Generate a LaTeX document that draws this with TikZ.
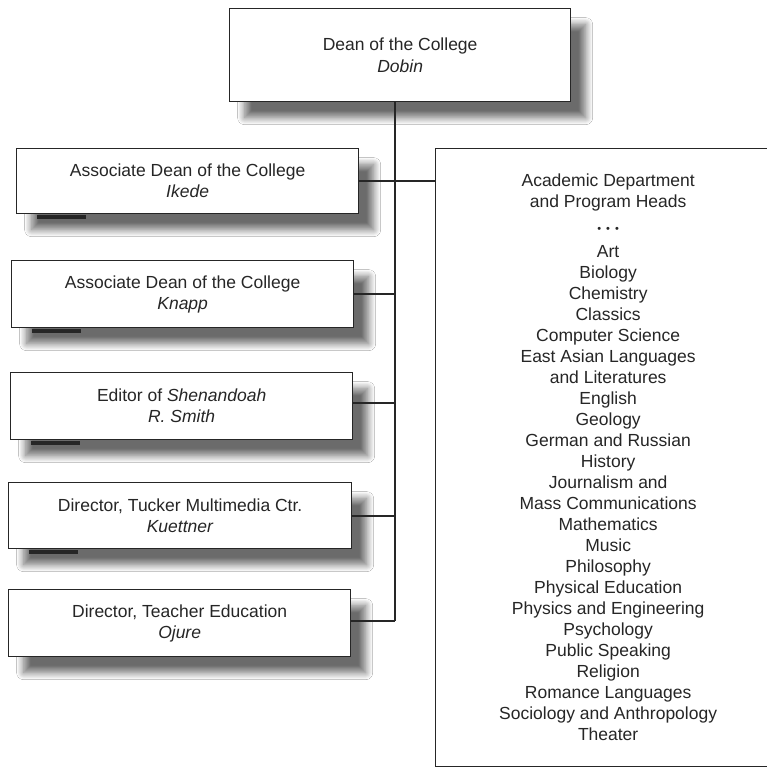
\documentclass[tikz,border=0pt]{standalone}
\usepackage{fontspec}
\setmainfont{Liberation Sans}
\usetikzlibrary{shadows.blur}

\definecolor{ink}{HTML}{262626}

\tikzset{
  orgbox/.style={draw=ink, line width=1.3pt, fill=white, anchor=north west,
    inner sep=0pt, align=center, text=ink,
    font=\fontsize{17.5}{21}\selectfont,
    blur shadow={shadow xshift=15pt, shadow yshift=-16pt,
      shadow blur radius=7pt, shadow blur steps=12, shadow opacity=58}},
  plainbox/.style={draw=ink, line width=1.3pt, fill=white, anchor=north west,
    inner sep=0pt, align=center, text=ink,
    font=\fontsize{17.5}{21}\selectfont},
  link/.style={draw=ink, line width=1.8pt},
  footbar/.style={fill=ink}
}

\begin{document}
\begin{tikzpicture}[x=1pt, y=-1pt]
  \useasboundingbox (0,0) rectangle (767,768);
  \clip (0,0) rectangle (767,768);
  \fill[white] (0,0) rectangle (767,768);

  % Dean
  \node[orgbox, minimum width=341pt, minimum height=93pt] (dean) at (229,8)
    {Dean of the College\\[1pt] \textit{Dobin}};

  % staff reporting to the Dean
  \node[orgbox, minimum width=342pt, minimum height=65pt] (ikede) at (16,148)
    {Associate Dean of the College\\ \textit{Ikede}};
  \node[orgbox, minimum width=342pt, minimum height=67pt] (knapp) at (11,260)
    {Associate Dean of the College\\ \textit{Knapp}};
  \node[orgbox, minimum width=342pt, minimum height=67pt] (editor) at (10,372)
    {Editor of \textit{Shenandoah}\\ \textit{R. Smith}};
  \node[orgbox, minimum width=343pt, minimum height=66pt] (tucker) at (8,482)
    {Director, Tucker Multimedia Ctr.\\ \textit{Kuettner}};
  \node[orgbox, minimum width=342pt, minimum height=67pt] (teacher) at (8,589)
    {Director, Teacher Education\\ \textit{Ojure}};

  % dark foot marks under the lower left corners
  \foreach \b in {ikede, knapp, editor, tucker}
    \fill[footbar] ([xshift=21pt, yshift=-1pt]\b.south west) rectangle ([xshift=70pt, yshift=-5pt]\b.south west);

  % department heads
  \node[plainbox, minimum width=345pt, minimum height=618pt] (heads) at (435,148)
    {Academic Department\\ and Program Heads\\[4pt]
     {\fontsize{11}{10}\selectfont •\hspace{5pt}•\hspace{5pt}•}\\[4pt]
     Art\\ Biology\\ Chemistry\\ Classics\\ Computer Science\\
     East Asian Languages\\ and Literatures\\ English\\ Geology\\
     German and Russian\\ History\\ Journalism and\\ Mass Communications\\
     Mathematics\\ Music\\ Philosophy\\ Physical Education\\
     Physics and Engineering\\ Psychology\\ Public Speaking\\ Religion\\
     Romance Languages\\ Sociology and Anthropology\\ Theater};

  % trunk
  \coordinate (trunkend) at (395,621);
  \draw[link] (dean.south -| trunkend) -- (trunkend);

  % branches
  \draw[link] (ikede.east) -- (ikede.east -| heads.west);
  \draw[link] (knapp.east) -- (knapp.east -| trunkend);
  \draw[link] ([yshift=3pt]editor.east) -- ([yshift=3pt]editor.east -| trunkend);
  \draw[link] (tucker.east) -- (tucker.east -| trunkend);
  \draw[link] (teacher.east |- trunkend) -- (trunkend);
\end{tikzpicture}
\end{document}
